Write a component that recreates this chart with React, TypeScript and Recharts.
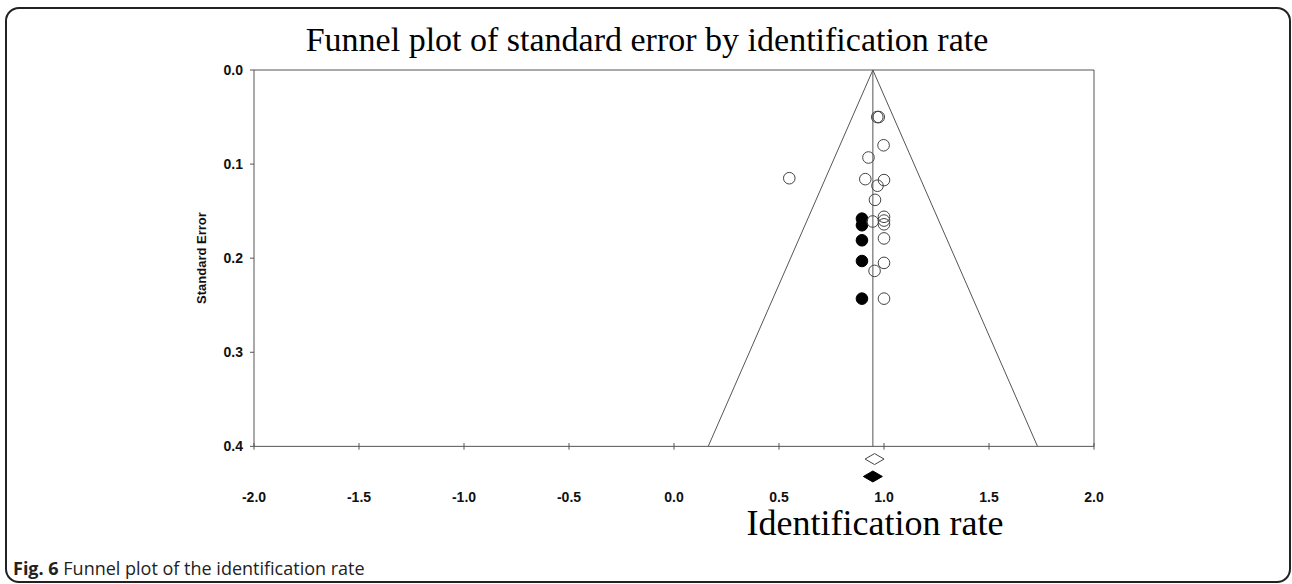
import { ScatterChart, Scatter, XAxis, YAxis, ReferenceLine, ReferenceArea } from 'recharts';

const X_TICKS = [-2, -1.5, -1, -0.5, 0, 0.5, 1, 1.5, 2];
const Y_TICKS = [0, 0.1, 0.2, 0.3, 0.4];

// observed studies (open circles)
const observedEffect = [0.968, 0.975, 0.998, 0.926, 0.549, 0.911, 1.0, 0.969, 0.957, 1.0, 1.0, 1.0, 0.946, 1.0, 1.0, 0.955, 1.0];
const observedSE = [0.05, 0.05, 0.08, 0.093, 0.115, 0.116, 0.117, 0.123, 0.138, 0.156, 0.16, 0.164, 0.161, 0.179, 0.205, 0.2135, 0.243];

// imputed studies, trim and fill (filled circles)
const imputedEffect = [0.895, 0.895, 0.895, 0.895, 0.895];
const imputedSE = [0.158, 0.165, 0.181, 0.203, 0.243];

// summary diamonds drawn under the axis
const observedMean = 0.955;
const adjustedMean = 0.947;
const summaryRows = [0.4135, 0.432];

// funnel base at SE = 0.4
const funnelMaxSE = 0.4;
const funnelBase = [0.163, 1.731];

const observed = observedEffect.map((x, i) => ({ x, y: observedSE[i] }));
const imputed = imputedEffect.map((x, i) => ({ x, y: imputedSE[i] }));

const LINE = '#555';
const FONT = 'Liberation Sans, Arial, sans-serif';
const tickStyle = { fontFamily: FONT, fontWeight: 700, fontSize: 14, fill: '#111' };

const OpenDot = (p: any) => <circle cx={p.cx} cy={p.cy} r={5.8} fill="none" stroke="#444" strokeWidth={1} />;
const FilledDot = (p: any) => <circle cx={p.cx} cy={p.cy} r={5.8} fill="#000" stroke="#000" strokeWidth={1} />;
const diamond = (filled: boolean) => (p: any) => (
  <path
    d={`M${p.cx - 9.5},${p.cy} L${p.cx},${p.cy - 5.5} L${p.cx + 9.5},${p.cy} L${p.cx},${p.cy + 5.5} Z`}
    fill={filled ? '#000' : '#fff'}
    stroke={filled ? '#000' : '#444'}
    strokeWidth={1}
  />
);

export default function App() {
  return (
    <div style={{ position: 'absolute', left: 0, top: 0, width: 1292, height: 584, background: '#fff', overflow: 'hidden' }}>
      <div
        style={{
          position: 'absolute', left: 5, top: 7, width: 1286, height: 576,
          border: '2px solid #222', borderRadius: 14, boxSizing: 'border-box',
        }}
      />
      <div style={{ position: 'absolute', left: 0, top: 0 }}>
        <ScatterChart width={1292} height={584} margin={{ top: 70, right: 198, bottom: 70, left: 194 }}>
          <XAxis
            type="number"
            dataKey="x"
            domain={[-2, 2]}
            ticks={X_TICKS}
            tickFormatter={(v: number) => v.toFixed(1)}
            axisLine={false}
            tickLine={false}
            height={30}
            fontSize={14}
            fontWeight={700}
            fontFamily={FONT}
            tick={tickStyle}
          />
          <YAxis
            type="number"
            dataKey="y"
            domain={[0, 0.44]}
            reversed
            ticks={Y_TICKS}
            tickFormatter={(v: number) => v.toFixed(1)}
            axisLine={false}
            tickSize={4}
            tickMargin={7}
            tickLine={{ stroke: LINE }}
            width={60}
            fontSize={14}
            fontWeight={700}
            fontFamily={FONT}
            tick={tickStyle}
          />
          <ReferenceArea x1={-2} x2={2} y1={0} y2={funnelMaxSE} fill="none" fillOpacity={0} stroke={LINE} strokeWidth={1} />
          {X_TICKS.map((t) => (
            <ReferenceLine
              key={t}
              segment={[{ x: t, y: funnelMaxSE - 0.0035 }, { x: t, y: funnelMaxSE + 0.0035 }]}
              stroke={LINE}
            />
          ))}
          <ReferenceLine segment={[{ x: adjustedMean, y: 0 }, { x: adjustedMean, y: funnelMaxSE }]} stroke={LINE} />
          <ReferenceLine segment={[{ x: adjustedMean, y: 0 }, { x: funnelBase[0], y: funnelMaxSE }]} stroke={LINE} />
          <ReferenceLine segment={[{ x: adjustedMean, y: 0 }, { x: funnelBase[1], y: funnelMaxSE }]} stroke={LINE} />
          <Scatter data={imputed} shape={FilledDot} isAnimationActive={false} />
          <Scatter data={observed} shape={OpenDot} isAnimationActive={false} />
          <Scatter data={[{ x: observedMean, y: summaryRows[0] }]} shape={diamond(false)} isAnimationActive={false} />
          <Scatter data={[{ x: adjustedMean, y: summaryRows[1] }]} shape={diamond(true)} isAnimationActive={false} />
        </ScatterChart>
      </div>
      <svg width={1292} height={584} style={{ position: 'absolute', left: 0, top: 0, pointerEvents: 'none' }}>
        <text x={647} y={51} textAnchor="middle" fontFamily="Liberation Serif, Times New Roman, serif" fontSize={34} fill="#000">
          Funnel plot of standard error by identification rate
        </text>
        <text x={875} y={535} textAnchor="middle" fontFamily="Liberation Serif, Times New Roman, serif" fontSize={36} fill="#000">
          Identification rate
        </text>
        <text
          x={0}
          y={0}
          transform="translate(206,258) rotate(-90)"
          textAnchor="middle"
          fontFamily={FONT}
          fontWeight={700}
          fontSize={13}
          fill="#111"
        >
          Standard Error
        </text>
        <text x={13} y={575} fontFamily="Open Sans, sans-serif" fontSize={18} fill="#222">
          <tspan fontWeight={700}>Fig. 6</tspan> Funnel plot of the identification rate
        </text>
      </svg>
    </div>
  );
}
